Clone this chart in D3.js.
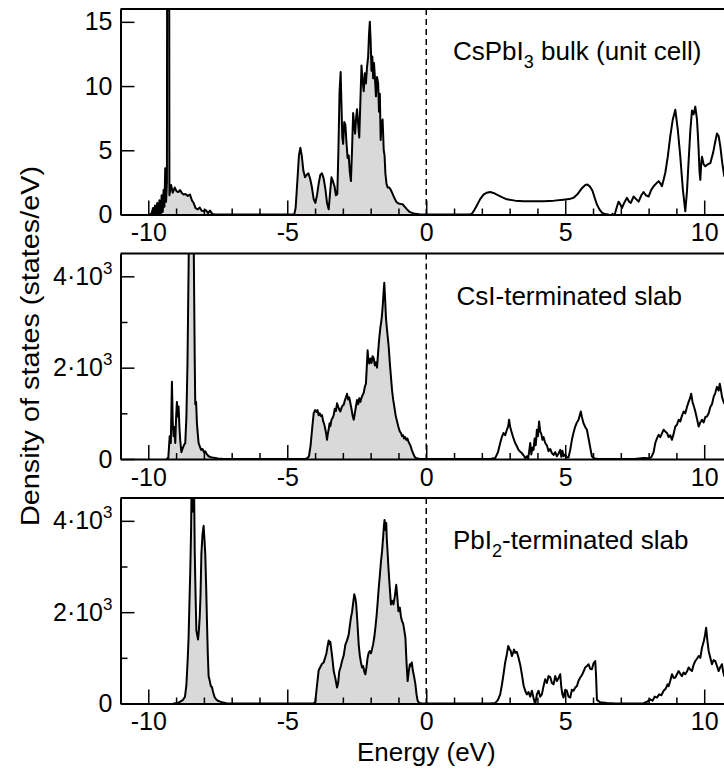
<!DOCTYPE html>
<html>
<head>
<meta charset="utf-8">
<script src="https://cdn.jsdelivr.net/npm/d3@7"></script>
<style>
  html, body { margin: 0; padding: 0; background: #fff; overflow: hidden; }
  svg { display: block; font-family: "Liberation Sans", Arial, Helvetica, sans-serif; }
</style>
</head>
<body>
<svg id="chart" width="724" height="770"></svg>
<script>
// ---------------- DATA ----------------
const xTickValues = [-10, -5, 0, 5, 10];
const panelLabels = ["CsPbI3 bulk (unit cell)", "CsI-terminated slab", "PbI2-terminated slab"];

// Panel 1: CsPbI3 bulk (states/eV)
const bulkE = [-9.95,-9.88,-9.83,-9.80,-9.76,-9.72,-9.68,-9.64,-9.60,-9.56,-9.52,-9.48,-9.45,-9.42,-9.39,-9.36,-9.33,-9.31,-9.26,-9.24,-9.18,-9.12,-9.05,-8.98,-8.92,-8.86,-8.80,-8.73,-8.66,-8.58,-8.50,-8.43,-8.37,-8.30,-8.22,-8.15,-8.08,-8.00,-7.93,-7.85,-7.78,-7.70,-7.60,-7.50,
-4.80,-4.75,-4.70,-4.64,-4.58,-4.53,-4.48,-4.42,-4.36,-4.30,-4.24,-4.18,-4.12,-4.05,-3.99,-3.93,-3.87,-3.81,-3.75,-3.69,-3.63,-3.57,-3.51,-3.46,-3.41,-3.36,-3.30,-3.25,-3.20,-3.16,-3.12,-3.08,-3.05,-3.02,-2.99,-2.95,-2.91,-2.87,-2.83,-2.79,-2.75,-2.71,-2.67,-2.63,-2.59,-2.56,-2.52,-2.49,-2.45,-2.41,-2.37,-2.33,-2.29,-2.25,-2.21,-2.17,-2.13,-2.09,-2.06,-2.03,-2.00,-1.97,-1.94,-1.91,-1.88,-1.84,-1.81,-1.77,-1.73,-1.70,-1.67,-1.64,-1.61,-1.57,-1.53,-1.50,-1.47,-1.43,-1.39,-1.33,-1.27,-1.21,-1.15,-1.08,-1.00,-0.92,-0.85,-0.77,-0.69,-0.60,-0.51,-0.40,-0.25,0,
1.55,1.64,1.73,1.82,1.94,2.06,2.18,2.30,2.42,2.54,2.72,2.90,3.20,3.50,3.90,4.22,4.60,4.94,5.14,5.30,5.45,5.60,5.72,5.80,5.90,5.98,6.06,6.14,6.23,6.32,6.42,6.55,6.65,6.70,6.74,6.80,6.86,6.92,6.98,7.04,7.12,7.22,7.30,7.36,7.46,7.55,7.64,7.74,7.82,7.90,8.00,8.09,8.18,8.27,8.36,8.43,8.48,8.55,8.60,8.69,8.78,8.87,8.96,9.05,9.14,9.23,9.32,9.38,9.44,9.50,9.56,9.62,9.68,9.71,9.74,9.77,9.80,9.83,9.86,9.89,9.92,9.98,10.04,10.12,10.22,10.32,10.40,10.46,10.52,10.58,10.65,10.72,10.85,11.0];
const bulkDOS = [0,0.1,0.5,-0.2,0.7,-0.4,0.9,-0.3,1.1,-0.5,1.5,0.2,1.9,0.6,3.6,1.0,2.5,45,45,1.5,2.3,1.7,2.1,1.8,1.75,1.9,1.7,1.55,1.6,1.45,1.55,1.1,0.9,0.5,0.4,0.55,0.3,0.25,0.35,0.1,0.3,0.05,0,0,
0,0,0.5,2.5,4.6,5.2,4.6,3.4,2.9,3.1,3.2,2.8,2.2,1.2,0.9,1.5,2.4,3.1,3.2,2.8,2.0,0.9,0.4,1.7,2.9,2.6,2.2,1.5,1.6,5.0,9.5,11.1,8.5,6.0,5.5,7.2,7.0,5.6,4.4,4.6,3.3,2.6,5.0,7.9,7.0,6.3,7.6,8.2,7.1,6.0,8.8,11.6,10.4,9.6,11.0,10.2,11.5,12.3,14.0,15.0,13.5,11.2,12.3,10.6,11.8,10.4,9.2,10.7,10.2,8.0,9.4,5.8,7.0,7.4,5.0,4.6,3.2,2.4,2.1,2.1,1.9,1.6,1.3,1.0,0.85,0.82,0.8,0.6,0.4,0.2,0.13,0.05,0.02,0,
0,0.05,0.35,0.7,1.2,1.55,1.7,1.75,1.68,1.55,1.35,1.18,1.08,1.04,1.03,1.04,1.08,1.15,1.2,1.3,1.6,2.05,2.3,2.33,2.15,1.85,1.3,0.78,0.4,0.14,0.03,0,-0.12,0.05,-0.15,0.15,0.6,1.0,0.8,0.5,0.9,1.3,1.0,0.9,1.4,1.2,1.0,1.5,1.75,1.5,1.4,1.9,2.2,2.4,2.6,2.4,2.2,2.8,3.25,4.5,6.1,7.4,8.15,6.6,4.5,2.0,0.25,1.8,4.2,6.5,8.1,7.8,8.4,7.9,7.4,6.3,5.0,3.4,2.7,3.9,4.5,3.9,3.75,3.9,4.0,4.8,5.7,6.3,6.1,5.3,4.0,3.0,2.6,2.5];

// Panel 2: CsI-terminated slab (states/eV)
const csiE = [-9.35,-9.28,-9.23,-9.19,-9.15,-9.12,-9.09,-9.06,-9.03,-9.00,-8.97,-8.94,-8.91,-8.88,-8.85,-8.81,-8.77,-8.72,-8.67,-8.63,-8.59,-8.55,-8.52,-8.46,-8.41,-8.37,-8.33,-8.31,-8.28,-8.25,-8.22,-8.19,-8.15,-8.10,-8.05,-8.00,-7.95,-7.89,-7.83,-7.75,-7.65,-7.50,-7.30,
-4.35,-4.28,-4.22,-4.16,-4.10,-4.05,-4.00,-3.95,-3.91,-3.87,-3.83,-3.79,-3.75,-3.71,-3.67,-3.63,-3.60,-3.57,-3.54,-3.51,-3.48,-3.45,-3.41,-3.37,-3.33,-3.29,-3.25,-3.21,-3.17,-3.13,-3.09,-3.05,-3.01,-2.97,-2.93,-2.89,-2.85,-2.81,-2.77,-2.73,-2.69,-2.65,-2.61,-2.57,-2.53,-2.49,-2.45,-2.41,-2.37,-2.33,-2.29,-2.25,-2.21,-2.17,-2.14,-2.11,-2.08,-2.05,-2.01,-1.97,-1.93,-1.89,-1.85,-1.81,-1.77,-1.73,-1.69,-1.65,-1.62,-1.59,-1.56,-1.53,-1.51,-1.48,-1.45,-1.42,-1.39,-1.35,-1.31,-1.27,-1.23,-1.19,-1.15,-1.10,-1.05,-1.00,-0.95,-0.91,-0.87,-0.83,-0.80,-0.76,-0.72,-0.68,-0.64,-0.60,-0.56,-0.52,-0.47,-0.42,-0.36,-0.25,0,
2.30,2.48,2.58,2.66,2.72,2.78,2.84,2.90,2.95,2.98,3.02,3.08,3.14,3.20,3.26,3.32,3.38,3.44,3.50,3.56,3.62,3.66,3.70,3.74,3.78,3.82,3.86,3.90,3.94,3.98,4.02,4.06,4.10,4.14,4.18,4.22,4.28,4.34,4.40,4.46,4.52,4.58,4.64,4.70,4.76,4.82,4.86,4.90,4.94,5.00,5.06,5.12,5.18,5.24,5.30,5.36,5.42,5.48,5.52,5.56,5.60,5.66,5.72,5.78,5.84,5.90,5.96,6.05,6.20,7.50,7.82,8.00,8.10,8.18,8.24,8.30,8.36,8.42,8.48,8.54,8.60,8.66,8.72,8.78,8.84,8.90,8.96,9.02,9.08,9.14,9.20,9.26,9.32,9.38,9.44,9.50,9.53,9.58,9.63,9.68,9.74,9.80,9.86,9.92,9.98,10.04,10.10,10.16,10.22,10.28,10.34,10.40,10.46,10.52,10.56,10.60,10.64,10.68,10.72,10.85,11.0];
const csiDOS = [0,30,500,350,1690,800,500,700,350,900,1250,930,1150,700,400,150,220,300,350,900,2100,4200,6000,6000,6000,5000,2200,1200,1250,780,550,350,280,200,220,150,170,100,60,40,30,10,0,
0,20,60,300,700,1000,1070,1030,1070,960,1000,940,960,830,760,650,550,420,560,650,780,720,860,900,960,1100,1050,1220,1150,1080,1040,1120,1170,1190,1280,1350,1430,1300,1350,1220,1100,950,860,1000,1150,1290,1200,1330,1250,1340,1400,1450,1580,1650,2000,2380,2150,2090,2200,2100,2250,2200,2050,2120,2000,2350,2650,2880,3000,3170,3400,3700,3860,3500,3100,2880,2700,2450,2100,1800,1500,1300,1150,950,820,700,600,570,500,520,450,480,420,450,380,330,280,200,120,50,15,5,0,
0,20,150,350,480,570,520,640,720,860,700,570,450,350,280,200,160,130,80,20,60,-10,150,350,100,250,200,450,300,640,500,820,600,550,420,480,350,300,170,220,130,90,150,60,120,200,50,180,60,100,30,40,200,420,580,710,800,860,950,1040,920,780,700,640,450,250,60,10,0,0,20,15,40,150,350,450,530,480,560,640,600,570,480,520,420,550,710,750,860,820,950,1040,1000,1140,1250,1350,1430,1250,1150,1040,880,710,800,860,800,920,930,1000,1140,1200,1360,1450,1580,1500,1650,1520,1360,1280,1220,1280,1300];

// Panel 3: PbI2-terminated slab (states/eV)
const pbiE = [-9.10,-8.95,-8.85,-8.75,-8.68,-8.63,-8.58,-8.55,-8.52,-8.49,-8.46,-8.44,-8.41,-8.39,-8.37,-8.35,-8.33,-8.30,-8.27,-8.24,-8.21,-8.18,-8.15,-8.12,-8.09,-8.05,-8.01,-7.98,-7.95,-7.92,-7.89,-7.86,-7.83,-7.79,-7.75,-7.71,-7.67,-7.62,-7.57,-7.50,-7.41,-7.30,-7.17,
-4.05,-3.99,-3.93,-3.87,-3.81,-3.75,-3.69,-3.63,-3.59,-3.55,-3.51,-3.48,-3.45,-3.41,-3.37,-3.33,-3.27,-3.21,-3.17,-3.13,-3.08,-3.03,-2.97,-2.91,-2.87,-2.83,-2.79,-2.75,-2.71,-2.67,-2.63,-2.59,-2.55,-2.52,-2.48,-2.43,-2.39,-2.35,-2.31,-2.27,-2.23,-2.19,-2.15,-2.11,-2.07,-2.03,-1.99,-1.95,-1.91,-1.87,-1.83,-1.79,-1.75,-1.71,-1.67,-1.63,-1.59,-1.55,-1.52,-1.50,-1.47,-1.44,-1.42,-1.39,-1.36,-1.32,-1.27,-1.23,-1.18,-1.13,-1.08,-1.05,-1.00,-0.95,-0.91,-0.87,-0.83,-0.79,-0.75,-0.71,-0.67,-0.63,-0.59,-0.56,-0.52,-0.48,-0.44,-0.39,-0.35,-0.31,-0.25,-0.15,0,
2.30,2.48,2.58,2.66,2.72,2.78,2.84,2.90,2.95,2.99,3.04,3.08,3.12,3.16,3.20,3.26,3.32,3.38,3.44,3.50,3.56,3.62,3.68,3.74,3.80,3.86,3.92,3.98,4.04,4.10,4.16,4.22,4.28,4.34,4.40,4.46,4.52,4.58,4.64,4.70,4.76,4.82,4.86,4.90,4.94,5.00,5.06,5.12,5.18,5.24,5.30,5.36,5.42,5.48,5.54,5.60,5.66,5.72,5.78,5.84,5.90,5.96,6.02,6.08,6.11,6.14,6.25,6.50,6.80,7.80,7.95,8.06,8.14,8.22,8.30,8.38,8.46,8.54,8.62,8.68,8.72,8.78,8.84,8.90,8.96,9.02,9.08,9.14,9.20,9.26,9.32,9.38,9.44,9.50,9.56,9.62,9.68,9.74,9.80,9.86,9.92,9.98,10.03,10.07,10.11,10.16,10.22,10.28,10.34,10.40,10.46,10.52,10.58,10.64,10.68,10.72,10.85,11.0];
const pbiDOS = [0,10,40,80,150,400,1000,1450,2200,2900,3800,5000,5000,4200,5000,4600,3350,2400,1600,1500,1400,1600,1900,2400,3270,3700,3890,3600,3270,2600,1820,1100,600,500,380,360,250,150,100,60,40,20,0,
0,50,400,730,800,870,900,1020,1100,1250,1380,1300,1350,1150,950,710,550,350,450,700,800,930,1050,1290,1350,1420,1510,1700,1880,2000,2200,2390,2300,2170,1800,1290,1050,900,790,820,700,640,800,1000,1110,1150,1100,1190,1300,1450,1660,1900,2200,2530,2800,3100,3330,3650,3900,4020,3800,3950,3620,3300,2970,2600,2170,2250,2170,2350,2600,2400,2020,2100,1900,1800,1750,1600,1440,900,490,700,860,820,900,710,600,420,200,60,10,0,0,
0,10,80,200,400,640,900,1080,1260,1200,1150,1040,1100,1180,1110,1130,1000,850,640,400,280,200,250,150,280,120,-20,200,280,150,200,380,530,450,600,580,450,420,600,490,560,640,350,200,130,300,280,150,130,300,280,350,380,500,570,620,700,790,820,860,760,750,880,930,600,80,30,10,0,0,40,90,60,150,130,200,180,280,330,420,380,500,640,560,570,640,710,650,600,680,640,700,790,740,710,850,930,980,1040,1000,1220,1350,1500,1660,1400,1150,1000,860,950,930,820,710,800,860,700,600,650,700];

const panelYMax = [16, 4500, 4500];
const panelYMajor = [[0, 5, 10, 15], [0, 2000, 4000], [0, 2000, 4000]];
const panelYMinor = [[], [1000, 3000], [1000, 3000]];

// ---------------- LAYOUT ----------------
const svg = d3.select("#chart");
const left = 120.5, right = 732;
const panelTops = [9, 253.5, 498];
const panelH = 205.5;
const x = d3.scaleLinear().domain([-11, 11]).range([left, right]);
const fs = 25;

const datasets = [
  bulkE.map((e, i) => ({ e, v: bulkDOS[i] })),
  csiE.map((e, i) => ({ e, v: csiDOS[i] })),
  pbiE.map((e, i) => ({ e, v: pbiDOS[i] }))
];

datasets.forEach((data, p) => {
  const top = panelTops[p], bottom = top + panelH;
  const y = d3.scaleLinear().domain([0, panelYMax[p]]).range([bottom, top]);
  const g = svg.append("g");

  const clipId = "clip" + p;
  svg.append("clipPath").attr("id", clipId)
    .append("rect").attr("x", left).attr("y", top).attr("width", right - left).attr("height", panelH);

  const plot = g.append("g").attr("clip-path", `url(#${clipId})`);

  // filled valence region (E <= 0)
  const area = d3.area().x(d => x(d.e)).y0(y(0)).y1(d => y(d.v));
  plot.append("path")
    .datum(data.filter(d => d.e <= 0))
    .attr("d", area)
    .attr("fill", "#d9d9d9")
    .attr("stroke", "none");

  // Fermi level dashed line
  plot.append("line")
    .attr("x1", x(0)).attr("x2", x(0))
    .attr("y1", top).attr("y2", bottom)
    .attr("stroke", "#000").attr("stroke-width", 1.5)
    .attr("stroke-dasharray", "6,4");

  // DOS line
  const line = d3.line().x(d => x(d.e)).y(d => y(d.v));
  plot.append("path")
    .datum(data)
    .attr("d", line)
    .attr("fill", "none")
    .attr("stroke", "#000")
    .attr("stroke-width", 2)
    .attr("stroke-linejoin", "round");

  // x axis (minor ticks)
  const minorX = d3.range(-11, 12).filter(v => v % 5 !== 0);
  g.append("g").attr("transform", `translate(0,${bottom})`)
    .call(d3.axisBottom(x).tickValues(minorX).tickSize(-6).tickSizeOuter(0).tickFormat(""))
    .call(a => a.select(".domain").remove())
    .selectAll("line").attr("stroke-width", 1.5);

  // x axis (major)
  const xAxis = g.append("g").attr("transform", `translate(0,${bottom})`)
    .call(d3.axisBottom(x).tickValues(xTickValues).tickSize(-14).tickSizeOuter(0).tickPadding(9)
      .tickFormat(d => String(d)));
  xAxis.select(".domain").attr("stroke-width", 2);
  xAxis.selectAll(".tick line").attr("stroke-width", 1.5);
  xAxis.selectAll("text").attr("font-size", fs).attr("font-family", "Liberation Sans, Arial, sans-serif").attr("fill", "#000");

  // top border
  g.append("line").attr("x1", left).attr("x2", right).attr("y1", top).attr("y2", top)
    .attr("stroke", "#000").attr("stroke-width", 2);

  // y axis minor
  if (panelYMinor[p].length) {
    g.append("g").attr("transform", `translate(${left},0)`)
      .call(d3.axisLeft(y).tickValues(panelYMinor[p]).tickSize(-7).tickSizeOuter(0).tickFormat(""))
      .call(a => a.select(".domain").remove())
      .selectAll("line").attr("stroke-width", 1.5);
  }
  // y axis major
  const yAxis = g.append("g").attr("transform", `translate(${left},0)`)
    .call(d3.axisLeft(y).tickValues(panelYMajor[p]).tickSize(-14).tickSizeOuter(0).tickPadding(8)
      .tickFormat(d => String(d)));
  yAxis.select(".domain").attr("stroke-width", 2);
  yAxis.selectAll(".tick line").attr("stroke-width", 1.5);
  yAxis.selectAll("text").attr("font-size", fs).attr("font-family", "Liberation Sans, Arial, sans-serif").attr("fill", "#000")
    .each(function(d) {
      if (p > 0 && d !== 0) {
        const t = d3.select(this).text("");
        t.append("tspan").text((d / 1000) + "\u00B710");
        t.append("tspan").attr("font-size", 17).attr("dy", -11).text("3");
      }
    });

  // panel label
  const lab = g.append("text").attr("x", [453, 456.5, 453][p]).attr("y", top + 51)
    .attr("font-size", 26).attr("fill", "#000");
  if (p === 0) {
    lab.append("tspan").text("CsPbI");
    lab.append("tspan").attr("font-size", 18).attr("dy", 8).text("3");
    lab.append("tspan").attr("dy", -8).text(" bulk (unit cell)");
  } else if (p === 1) {
    lab.text(panelLabels[1]);
  } else {
    lab.append("tspan").text("PbI");
    lab.append("tspan").attr("font-size", 18).attr("dy", 8).text("2");
    lab.append("tspan").attr("dy", -8).text("-terminated slab");
  }
});

// axis titles
svg.append("text").attr("x", x(0)).attr("y", 761).attr("text-anchor", "middle")
  .attr("font-size", 26).attr("fill", "#000").text("Energy (eV)");

svg.append("text").attr("transform", "translate(39,346) rotate(-90)").attr("text-anchor", "middle")
  .attr("font-size", 26).attr("fill", "#000")
  .attr("textLength", 360).attr("lengthAdjust", "spacingAndGlyphs")
  .text("Density of states (states/eV)");
</script>
</body>
</html>
